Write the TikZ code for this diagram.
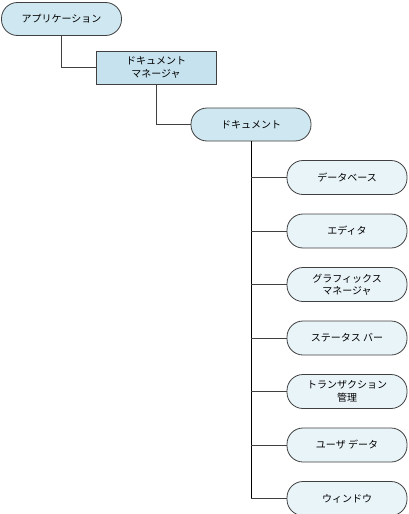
\documentclass[tikz,border=0pt]{standalone}
\usepackage{fontspec}
\usepackage{tikz}
\usetikzlibrary{positioning}
\newfontfamily\jpfont{Noto Sans CJK JP}
\definecolor{pillblue}{RGB}{207,231,240}
\definecolor{boxblue}{RGB}{198,226,238}
\definecolor{leafblue}{RGB}{233,244,249}
\definecolor{edgegray}{RGB}{64,64,64}

\begin{document}
\begin{tikzpicture}[x=1pt,y=-1pt,
  % pill shaped parts, box for the manager
  pill/.style={draw=edgegray,fill=pillblue,rounded corners=16pt,line width=0.8pt,
    minimum width=120pt,minimum height=33pt,inner sep=1pt,
    font=\jpfont\fontsize{10}{12.5}\selectfont,align=center},
  mgrbox/.style={pill,rounded corners=0pt,fill=boxblue},
  leaf/.style={pill,fill=leafblue,minimum height=34pt},
  link/.style={draw=black!75,line width=0.9pt},
  trunk/.style={draw=black,line width=1pt}]

  \useasboundingbox (0,0) rectangle (408,514);

  \node[pill](app) at (61.5,19){アプリケーション};
  \node[mgrbox](mgr) at (156,67.5){ドキュメント\\マネージャ};
  \node[pill](doc) at (251,124.5){ドキュメント};

  \node[leaf](db) at (347,177.5){データベース};
  \node[leaf,below=18.7pt of db](ed){エディタ};
  \node[leaf,below=18.7pt of ed](gfx){グラフィックス\\マネージャ};
  \node[leaf,below=18.7pt of gfx](stat){ステータス バー};
  \node[leaf,below=18.7pt of stat](trans){トランザクション\\管理};
  \node[leaf,below=18.7pt of trans](user){ユーザ データ};
  \node[leaf,below=18.7pt of user](win){ウィンドウ};

  \draw[link](app.south) |- (mgr.west);
  \draw[link](mgr.south) |- (doc.west);
  \draw[trunk](doc.south) -- (doc.south |- win.west);
  \foreach \c in {db,ed,gfx,stat,trans,user,win}
    \draw[link](doc.south |- \c.west) -- (\c.west);

\end{tikzpicture}
\end{document}
